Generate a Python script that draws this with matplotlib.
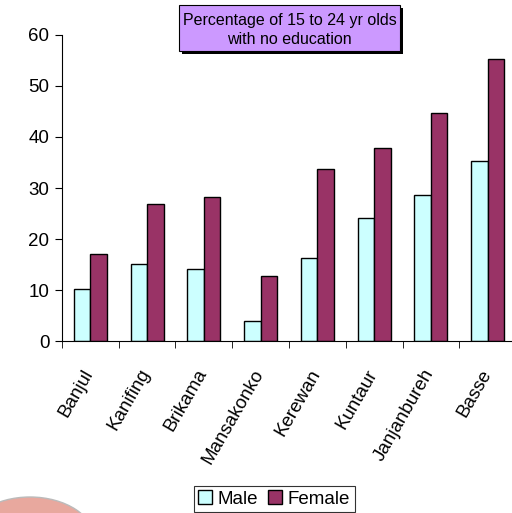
import numpy as np
import matplotlib.pyplot as plt
import matplotlib.transforms as mtransforms
from matplotlib.patches import Ellipse, Rectangle

plt.rcParams['font.family'] = ['Liberation Sans', 'DejaVu Sans']

regions = ['Banjul', 'Kanifing', 'Brikama', 'Mansakonko', 'Kerewan',
           'Kuntaur', 'Janjanbureh', 'Basse']
male = [10.2, 15.2, 14.2, 4.0, 16.2, 24.1, 28.7, 35.2]
female = [17.0, 26.8, 28.2, 12.8, 33.7, 37.8, 44.6, 55.3]
title = 'Percentage of 15 to 24 yr olds\nwith no education'

fig = plt.figure(figsize=(5.12, 5.13), dpi=100)
ax = fig.add_axes([0.121, 0.335, 0.887, 0.597])

x = np.arange(len(regions))
w = 0.29
ax.bar(x - w / 2, male, w, color='#CCFFFF', edgecolor='black', linewidth=1, label='Male')
ax.bar(x + w / 2, female, w, color='#993366', edgecolor='black', linewidth=1, label='Female')

ax.set_xlim(-0.5, len(regions) - 0.5)
ax.set_ylim(0, 60)
ax.set_yticks(range(0, 61, 10))
ax.tick_params(axis='y', labelsize=13.5, length=5, direction='out', pad=4)
ax.set_xticks(x)
ax.set_xticklabels(regions, rotation=60, ha='right', va='top', rotation_mode='anchor',
                   fontsize=13.5)
ax.tick_params(axis='x', which='major', length=0, pad=13)
ax.set_xticks(np.arange(-0.5, len(regions), 1), minor=True)
ax.tick_params(axis='x', which='minor', length=5, direction='out')
shift = mtransforms.ScaledTranslation(-8 / 100, -7 / 100, fig.dpi_scale_trans)
for lbl in ax.get_xticklabels():
    lbl.set_transform(lbl.get_transform() + shift)
for s in ['top', 'right']:
    ax.spines[s].set_visible(False)

# title box with shadow
fig.patches.append(Rectangle((182 / 512, 1 - 54 / 513), 221 / 512, 46 / 513,
                             transform=fig.transFigure, facecolor='black', zorder=5))
fig.patches.append(Rectangle((179 / 512, 1 - 51 / 513), 221 / 512, 46 / 513,
                             transform=fig.transFigure, facecolor='#CC99FF',
                             edgecolor='black', linewidth=0.8, zorder=6))
fig.text(289.5 / 512, 1 - 30 / 513, title, ha='center', va='center', fontsize=11.5,
         linespacing=1.3, zorder=7)

leg = fig.legend(loc='center', bbox_to_anchor=(274 / 512, 1 - 499 / 513), ncol=2,
                 fontsize=13.5, frameon=True, fancybox=False, edgecolor='black',
                 handlelength=0.75, handleheight=0.75, handletextpad=0.3,
                 columnspacing=0.5, borderpad=0.25, borderaxespad=0)
leg.get_frame().set_linewidth(0.8)

# decorative blob in the corner
fig.patches.append(Ellipse((30 / 512, 1 - 540 / 513), 130 / 512, 86 / 513,
                           transform=fig.transFigure, facecolor='#E8A89E',
                           edgecolor='#BBBBBB', linewidth=1))

fig.savefig('out.png', dpi=100)
